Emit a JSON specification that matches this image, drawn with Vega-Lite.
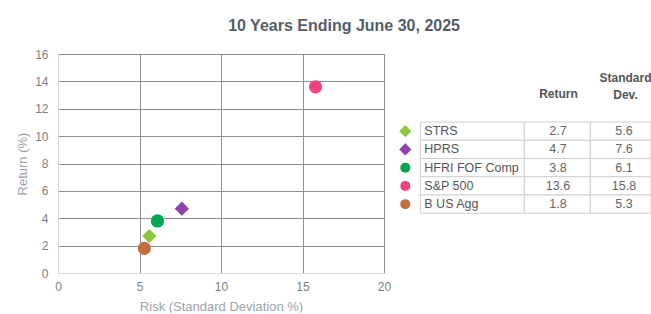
{
  "$schema": "https://vega.github.io/schema/vega-lite/v6.json",
  "padding": {"left": 16, "top": 18, "right": 0, "bottom": 0},
  "background": "white",
  "config": {"font": "Liberation Sans", "view": {"stroke": null}, "concat": {"spacing": 3}},
  "title": {"text": "10 Years Ending June 30, 2025", "fontSize": 16, "fontWeight": "bold", "color": "#555d66", "anchor": "middle", "offset": 14, "dx": 10},
  "datasets": {
    "funds": [
      {"name": "STRS", "ret": 2.7, "sd": 5.6},
      {"name": "HPRS", "ret": 4.7, "sd": 7.6},
      {"name": "HFRI FOF Comp", "ret": 3.8, "sd": 6.1},
      {"name": "S&P 500", "ret": 13.6, "sd": 15.8},
      {"name": "B US Agg", "ret": 1.8, "sd": 5.3}
    ]
  },
  "hconcat": [
    {
      "width": 326,
      "height": 219,
      "data": {"name": "funds"},
      "encoding": {
        "x": {
          "field": "sd", "type": "quantitative",
          "scale": {"domain": [0, 20], "nice": false},
          "axis": {
            "values": [0, 5, 10, 15, 20], "title": "Risk (Standard Deviation %)",
            "titleColor": "#9aa3ad", "titleFontSize": 13, "titleFontWeight": "normal", "titlePadding": 8,
            "labelColor": "#808080", "labelFontSize": 12, "labelPadding": 8, "labelFlush": false,
            "ticks": false, "tickSize": 0, "domainColor": "#d9d9d9",
            "gridColor": {"condition": {"test": "datum.value === 0", "value": "#d9d9d9"}, "value": "#8f8f8f"},
            "gridOpacity": 1
          }
        },
        "y": {
          "field": "ret", "type": "quantitative",
          "scale": {"domain": [0, 16], "nice": false},
          "axis": {
            "values": [0, 2, 4, 6, 8, 10, 12, 14, 16], "title": "Return (%)",
            "titleColor": "#9aa3ad", "titleFontSize": 13, "titleFontWeight": "normal", "titlePadding": 5,
            "labelColor": "#808080", "labelFontSize": 12, "labelPadding": 10, "labelFlush": false,
            "ticks": false, "tickSize": 0, "domainColor": "#d9d9d9",
            "gridColor": {"condition": {"test": "datum.value === 0", "value": "#d9d9d9"}, "value": "#8f8f8f"},
            "gridOpacity": 1
          }
        },
        "color": {
          "field": "name", "type": "nominal",
          "scale": {"domain": ["STRS", "HPRS", "HFRI FOF Comp", "S&P 500", "B US Agg"], "range": ["#8cc63e", "#8e44ad", "#00a650", "#f0437a", "#c0703f"]},
          "legend": null
        }
      },
      "layer": [
        {
          "transform": [{"filter": {"field": "name", "oneOf": ["B US Agg", "HFRI FOF Comp", "S&P 500"]}}],
          "mark": {"type": "point", "filled": true, "opacity": 1, "size": 175, "shape": "circle"}
        },
        {
          "transform": [{"filter": {"field": "name", "oneOf": ["STRS", "HPRS"]}}],
          "mark": {"type": "point", "filled": true, "opacity": 1, "size": 205, "shape": "diamond"}
        }
      ]
    },
    {
      "width": 250,
      "height": 219,
      "encoding": {
        "y": {
          "field": "name", "type": "nominal",
          "scale": {"domain": ["hdr", "STRS", "HPRS", "HFRI FOF Comp", "S&P 500", "B US Agg"], "paddingInner": 0, "paddingOuter": 0, "range": [49.75, 159.25]},
          "axis": null
        }
      },
      "layer": [
        {
          "data": {"name": "funds"},
          "mark": {"type": "rect", "fill": "white", "stroke": "#cfcfcf", "strokeWidth": 1},
          "encoding": {
            "x": {"datum": 10.52, "type": "quantitative", "scale": {"domain": [0, 100], "nice": false, "zero": false}, "axis": null},
            "x2": {"datum": 52.12}
          }
        },
        {
          "data": {"name": "funds"},
          "mark": {"type": "rect", "fill": "white", "stroke": "#cfcfcf", "strokeWidth": 1},
          "encoding": {
            "x": {"datum": 52.12, "type": "quantitative"},
            "x2": {"datum": 78.52}
          }
        },
        {
          "data": {"name": "funds"},
          "mark": {"type": "rect", "fill": "white", "stroke": "#cfcfcf", "strokeWidth": 1},
          "encoding": {
            "x": {"datum": 78.52, "type": "quantitative"},
            "x2": {"datum": 102.8}
          }
        },
        {
          "data": {"name": "funds"},
          "mark": {"type": "text", "align": "left", "baseline": "middle", "fontSize": 12.5, "color": "#555555"},
          "encoding": {
            "x": {"datum": 12.12, "type": "quantitative"},
            "text": {"field": "name"}
          }
        },
        {
          "data": {"name": "funds"},
          "mark": {"type": "text", "align": "center", "baseline": "middle", "fontSize": 12.5, "color": "#666666"},
          "encoding": {
            "x": {"datum": 65.6, "type": "quantitative"},
            "text": {"field": "ret", "format": ".1f"}
          }
        },
        {
          "data": {"name": "funds"},
          "mark": {"type": "text", "align": "center", "baseline": "middle", "fontSize": 12.5, "color": "#666666"},
          "encoding": {
            "x": {"datum": 92, "type": "quantitative"},
            "text": {"field": "sd", "format": ".1f"}
          }
        },
        {
          "data": {"name": "funds"},
          "transform": [{"filter": {"field": "name", "oneOf": ["B US Agg", "HFRI FOF Comp", "S&P 500"]}}],
          "mark": {"type": "point", "filled": true, "opacity": 1, "size": 100, "shape": "circle"},
          "encoding": {
            "x": {"datum": 4.52, "type": "quantitative"},
            "color": {
              "field": "name", "type": "nominal",
              "scale": {"domain": ["STRS", "HPRS", "HFRI FOF Comp", "S&P 500", "B US Agg"], "range": ["#8cc63e", "#8e44ad", "#00a650", "#f0437a", "#c0703f"]},
              "legend": null
            }
          }
        },
        {
          "data": {"name": "funds"},
          "transform": [{"filter": {"field": "name", "oneOf": ["STRS", "HPRS"]}}],
          "mark": {"type": "point", "filled": true, "opacity": 1, "size": 150, "shape": "diamond"},
          "encoding": {
            "x": {"datum": 4.52, "type": "quantitative"},
            "color": {
              "field": "name", "type": "nominal",
              "scale": {"domain": ["STRS", "HPRS", "HFRI FOF Comp", "S&P 500", "B US Agg"], "range": ["#8cc63e", "#8e44ad", "#00a650", "#f0437a", "#c0703f"]},
              "legend": null
            }
          }
        },
        {
          "data": {"values": [{"name": "hdr", "h": "Return"}]},
          "mark": {"type": "text", "align": "center", "baseline": "bottom", "fontSize": 12, "fontWeight": "bold", "color": "#555555", "yOffset": -12},
          "encoding": {
            "x": {"datum": 65.8, "type": "quantitative"},
            "text": {"field": "h"}
          }
        },
        {
          "data": {"values": [{"name": "hdr", "h": "Standard\nDev."}]},
          "mark": {"type": "text", "align": "center", "baseline": "bottom", "fontSize": 12, "fontWeight": "bold", "color": "#555555", "yOffset": -28, "lineBreak": "\n", "lineHeight": 17},
          "encoding": {
            "x": {"datum": 92.6, "type": "quantitative"},
            "text": {"field": "h"}
          }
        }
      ]
    }
  ]
}
